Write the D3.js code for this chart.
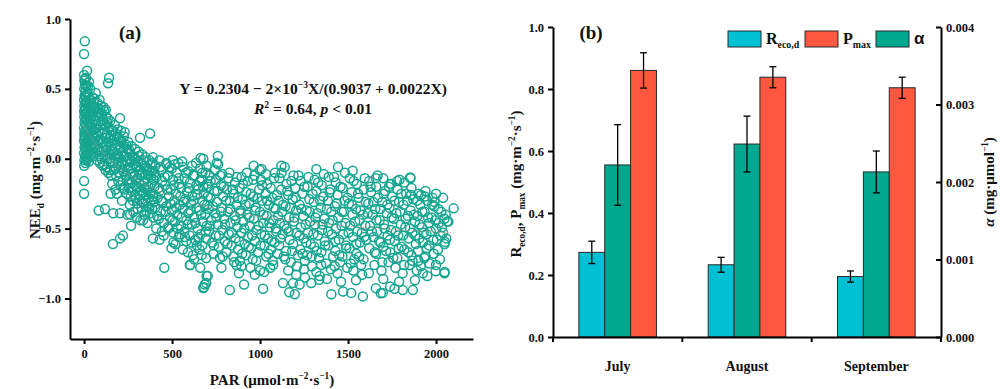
<!DOCTYPE html>
<html>
<head>
<meta charset="utf-8">
<script src="https://cdn.jsdelivr.net/npm/d3@7/dist/d3.min.js"></script>
<style>
  body { margin: 0; background: #fff; }
  svg text { font-family: "Liberation Serif", "Times New Roman", serif; font-weight: bold; fill: #111; }
</style>
</head>
<body>
<figure id="chart" style="margin:0"></figure>
<script>
// ---- panel (a) data: [PAR, NEE_d] ----
const colPoints = [
  [4,0.84],[0,0.75],[17,0.63],[23,0.52],[0,-0.16],[0,-0.25],
  [0,0.60],[2,0.56],[5,0.53],[1,0.50],[8,0.48],[3,0.45],[12,0.44],[0,0.42],[6,0.40],[15,0.41],[2,0.38],[10,0.36],
  [20,0.38],[0,0.34],[5,0.32],[14,0.33],[25,0.35],[1,0.30],[8,0.28],[18,0.29],[30,0.31],[3,0.26],[12,0.24],[22,0.26],
  [0,0.22],[6,0.20],[16,0.21],[28,0.22],[2,0.17],[10,0.16],[20,0.17],[35,0.19],[0,0.13],[5,0.11],[14,0.12],[25,0.13],
  [3,0.08],[9,0.06],[18,0.08],[32,0.09],[0,0.04],[6,0.02],[13,0.03],[22,0.04],[2,-0.01],[8,-0.03],[16,-0.01],[1,-0.05],
  [11,0.00],[4,0.15],[7,0.35],[9,0.45],[13,0.52],[4,0.57],[19,0.47],[26,0.44],[33,0.40],[38,0.36],[42,0.30],[45,0.25],
  [40,0.20],[36,0.14],[44,0.10],[30,0.05],[40,0.03],[27,-0.02],[48,0.07],[50,0.15],[52,0.34],[55,0.40],[47,0.44],
  [35,0.50],[28,0.55],[11,0.58],[58,0.28],[60,0.22],
  [3,0.19],[7,0.09],[12,0.29],[17,0.01],[21,0.12],[24,0.31],[29,0.16],[34,0.25],[39,0.08],[43,0.38],[49,0.21],[53,0.02],
  [57,0.11],[68,0.18],[76,0.06],[84,0.33],[91,0.14],[99,0.27],[107,0.12],[117,0.25],[127,0.09],[135,0.29],[144,0.00],[153,0.17]
];
const lowParPoints = [
  [142,0.58],[136,0.54],[66,0.47],[83,-0.37],[119,-0.36],[151,-0.25],
  [62,0.37],[70,0.33],[78,0.36],[85,0.30],[92,0.35],[100,0.32],[108,0.28],[115,0.34],[125,0.30],[132,0.26],[140,0.22],
  [148,0.27],[155,0.20],[65,0.27],[72,0.22],[80,0.25],[88,0.19],[96,0.24],[104,0.18],[112,0.21],[120,0.15],[128,0.18],
  [136,0.12],[145,0.15],[152,0.09],[158,0.13],[63,0.15],[70,0.10],[78,0.13],[86,0.07],[94,0.11],[102,0.05],[110,0.08],
  [118,0.02],[126,0.06],[134,0.00],[142,0.04],[150,-0.02],[157,0.03],[66,0.04],[74,-0.01],[82,0.02],[90,-0.03],[98,0.00],
  [106,-0.05],[114,-0.04],[122,-0.08],[130,-0.06],[138,-0.10],[146,-0.08],[154,-0.12],[75,0.40],[95,0.38],[110,0.37],
  [123,0.35],[60,0.43],[88,0.42],
  [164,-0.61],[204,-0.57],[221,-0.55],[267,-0.48],[166,-0.39],[204,-0.39],[246,-0.40],[204,0.29],[231,0.19],[375,0.18],[318,0.15],
  [165,0.20],[172,0.14],[180,0.18],[188,0.10],[196,0.15],[205,0.08],[212,0.12],[220,0.05],[228,0.09],[236,0.02],[244,0.07],
  [252,0.00],[260,0.04],[268,-0.02],[276,0.02],[284,-0.04],[292,0.00],[300,-0.06],[308,-0.02],[316,-0.08],[324,-0.03],
  [332,-0.10],[340,-0.05],[348,-0.11],[356,-0.06],[364,-0.12],[372,-0.08],[380,-0.13],[388,-0.09],[396,-0.15],
  [168,0.05],[176,0.00],[184,0.04],[192,-0.03],[200,0.01],[208,-0.06],[216,-0.02],[224,-0.09],[232,-0.05],[240,-0.12],
  [248,-0.08],[256,-0.15],[264,-0.11],[272,-0.17],[280,-0.13],[288,-0.19],[296,-0.15],[304,-0.21],[312,-0.17],[320,-0.23],
  [328,-0.19],[336,-0.24],[344,-0.21],[352,-0.26],[360,-0.22],[368,-0.28],[376,-0.24],[384,-0.29],[392,-0.25],[398,-0.31],
  [170,-0.08],[182,-0.12],[194,-0.16],[206,-0.19],[218,-0.16],[230,-0.22],[242,-0.25],[254,-0.21],[266,-0.27],[278,-0.30],
  [290,-0.26],[302,-0.32],[314,-0.29],[326,-0.35],[338,-0.32],[350,-0.37],[362,-0.34],[374,-0.39],[386,-0.36],[395,-0.42],
  [174,0.24],[190,0.21],[210,0.20],[226,0.16],[250,0.12],[270,0.09],[290,0.07],[310,0.05],[330,0.03],[350,0.01],[370,-0.01],
  [390,-0.03],[160,-0.18],[178,-0.22],[260,-0.33],[280,-0.38],[300,-0.42],[320,-0.44],[340,-0.40],[360,-0.46],
  [157,0.07],[163,-0.03],[171,0.11],[179,-0.07],[186,0.16],[193,0.02],[199,-0.10],[207,0.13],[213,-0.04],[219,-0.21],
  [226,0.02],[233,-0.12],[239,0.10],[245,-0.02],[251,-0.18],[258,0.06],[263,-0.07],[271,-0.23],[277,0.01],[283,-0.10],
  [291,-0.28],[297,-0.05],[303,-0.14],[311,0.02],[318,-0.26],[323,-0.12],[331,-0.31],[337,-0.01],[343,-0.16],[351,-0.30],
  [357,-0.09],[365,-0.20],[371,-0.35],[378,-0.04],[383,-0.18],[393,-0.27],[399,-0.10],[187,-0.25],[215,-0.30],[262,-0.40],
  [305,-0.36],[335,-0.44]
];
const midParPoints = [
  [405,-0.05],[438,-0.08],[468,-0.04],[498,-0.07],[528,-0.10],[562,-0.06],[592,-0.09],[628,-0.12],[660,-0.07],[690,-0.10],
  [412,-0.13],[445,-0.16],[475,-0.12],[505,-0.15],[540,-0.18],[572,-0.14],[602,-0.17],[638,-0.19],[668,-0.15],[698,-0.18],
  [400,-0.20],[430,-0.23],[460,-0.19],[492,-0.22],[522,-0.25],[552,-0.21],[585,-0.24],[615,-0.27],[648,-0.22],[680,-0.25],
  [418,-0.28],[448,-0.31],[482,-0.27],[512,-0.30],[545,-0.33],[575,-0.29],[608,-0.32],[640,-0.35],[672,-0.30],[700,-0.33],
  [404,-0.35],[436,-0.38],[466,-0.34],[498,-0.37],[530,-0.40],[560,-0.36],[592,-0.39],[625,-0.42],[655,-0.37],[688,-0.40],
  [425,-0.43],[455,-0.46],[488,-0.42],[518,-0.45],[550,-0.48],[582,-0.44],[612,-0.47],[645,-0.50],[675,-0.45],[698,-0.48],
  [410,-0.50],[442,-0.52],[475,-0.49],[508,-0.53],[538,-0.56],[570,-0.52],[600,-0.55],[632,-0.58],[662,-0.54],[692,-0.57],
  [391,-0.57],[429,-0.58],[497,-0.64],[543,-0.54],[580,-0.59],[603,-0.76],[618,-0.69],[656,-0.65],[694,-0.71],[703,-0.84],
  [682,-0.92],[694,-0.89],[456,-0.78],[561,-0.65],[520,-0.61],[640,-0.62],
  [391,0.01],[429,-0.01],[467,-0.03],[505,-0.01],[535,-0.03],[614,-0.05],[662,0.005],[760,0.02],[754,-0.03],
  [403,-0.12],[415,-0.41],[422,-0.21],[434,-0.06],[441,-0.30],[452,-0.55],[458,-0.13],[463,-0.38],[472,-0.22],[479,-0.50],
  [486,-0.06],[491,-0.32],[502,-0.44],[509,-0.19],[516,-0.04],[524,-0.35],[533,-0.50],[537,-0.14],[546,-0.27],[555,-0.42],
  [558,-0.02],[566,-0.31],[573,-0.56],[579,-0.10],[588,-0.47],[594,-0.21],[605,-0.37],[611,-0.60],[619,-0.12],[622,-0.30],
  [633,-0.46],[636,-0.03],[643,-0.26],[651,-0.57],[658,-0.16],[665,-0.40],[671,-0.62],[677,-0.20],[684,-0.33],[691,-0.52],
  [696,-0.05],[508,-0.60],[590,-0.67],[625,-0.72],[660,-0.78],[672,-0.10],
  [712,-0.12],[748,-0.15],[785,-0.11],[820,-0.14],[858,-0.17],[895,-0.13],[930,-0.16],[968,-0.12],[1005,-0.15],[1040,-0.18],[1080,-0.14],
  [705,-0.20],[740,-0.23],[778,-0.19],[812,-0.22],[850,-0.25],[885,-0.21],[922,-0.24],[960,-0.27],[995,-0.22],[1032,-0.25],[1070,-0.28],
  [718,-0.28],[755,-0.31],[790,-0.27],[828,-0.30],[865,-0.33],[900,-0.29],[938,-0.32],[975,-0.35],[1012,-0.30],[1050,-0.33],[1088,-0.36],
  [708,-0.36],[745,-0.39],[782,-0.35],[818,-0.38],[855,-0.41],[890,-0.37],[928,-0.40],[965,-0.43],[1000,-0.38],[1038,-0.41],[1075,-0.44],
  [722,-0.44],[760,-0.47],[795,-0.43],[832,-0.46],[870,-0.49],[905,-0.45],[942,-0.48],[980,-0.51],[1018,-0.46],[1055,-0.49],[1092,-0.52],
  [710,-0.52],[748,-0.55],[785,-0.51],[822,-0.54],[860,-0.57],[895,-0.53],[932,-0.56],[970,-0.59],[1006,-0.54],[1045,-0.57],[1082,-0.60],
  [728,-0.60],[765,-0.63],[800,-0.59],[838,-0.62],[875,-0.65],[912,-0.61],[950,-0.64],[988,-0.67],[1025,-0.62],[1062,-0.65],[1098,-0.68],
  [735,-0.68],[772,-0.71],[810,-0.67],[848,-0.70],[885,-0.73],[920,-0.69],[958,-0.72],[1035,-0.70],[1072,-0.73],
  [866,-0.76],[894,-0.77],[970,-0.83],[1023,-0.81],[1074,-0.76],[668,-0.69],[601,-0.76],[828,-0.94],[909,-0.90],[1017,-0.93],
  [696,-0.84],[686,-0.90],[677,-0.925],[964,-0.05],[1008,-0.074],[1121,-0.05],[762,-0.04],[677,0.0],
  [703,-0.27],[714,-0.48],[720,-0.16],[731,-0.34],[737,-0.62],[744,-0.08],[752,-0.42],[758,-0.23],[767,-0.55],[773,-0.12],
  [779,-0.38],[788,-0.70],[793,-0.20],[801,-0.47],[807,-0.30],[815,-0.61],[826,-0.10],[831,-0.36],[840,-0.53],[845,-0.22],
  [853,-0.74],[861,-0.44],[868,-0.13],[873,-0.28],[881,-0.59],[888,-0.39],[898,-0.68],[903,-0.18],[910,-0.50],[918,-0.33],
  [925,-0.10],[935,-0.63],[940,-0.42],[947,-0.25],[955,-0.55],[961,-0.15],[972,-0.37],[978,-0.73],[985,-0.28],[991,-0.48],
  [998,-0.08],[1003,-0.62],[1011,-0.19],[1020,-0.40],[1027,-0.55],[1033,-0.11],[1041,-0.30],[1048,-0.68],[1053,-0.46],
  [1060,-0.21],[1067,-0.59],[1077,-0.35],[1085,-0.10],[1090,-0.50],[1096,-0.26],[945,-0.78],[1000,-0.80],[880,-0.82],
  [780,-0.78],[1058,-0.78]
];
const highParPoints = [
  [1110,-0.14],[1150,-0.18],[1190,-0.12],[1230,-0.16],[1270,-0.20],[1310,-0.15],[1350,-0.19],[1390,-0.13],[1430,-0.17],[1470,-0.21],[1510,-0.14],[1550,-0.18],[1590,-0.22],
  [1120,-0.22],[1160,-0.26],[1200,-0.21],[1240,-0.25],[1280,-0.29],[1320,-0.23],[1360,-0.27],[1400,-0.22],[1440,-0.26],[1480,-0.30],[1520,-0.24],[1560,-0.28],[1600,-0.31],
  [1105,-0.30],[1145,-0.34],[1185,-0.29],[1225,-0.33],[1265,-0.37],[1305,-0.31],[1345,-0.35],[1385,-0.30],[1425,-0.34],[1465,-0.38],[1505,-0.32],[1545,-0.36],[1585,-0.40],
  [1125,-0.38],[1165,-0.42],[1205,-0.37],[1245,-0.41],[1285,-0.45],[1325,-0.39],[1365,-0.43],[1405,-0.38],[1445,-0.42],[1485,-0.46],[1525,-0.40],[1565,-0.44],[1598,-0.48],
  [1112,-0.46],[1152,-0.50],[1192,-0.45],[1232,-0.49],[1272,-0.53],[1312,-0.47],[1352,-0.51],[1392,-0.46],[1432,-0.50],[1472,-0.54],[1512,-0.48],[1552,-0.52],[1592,-0.56],
  [1128,-0.54],[1168,-0.58],[1208,-0.53],[1248,-0.57],[1288,-0.61],[1328,-0.55],[1368,-0.59],[1408,-0.54],[1448,-0.58],[1488,-0.62],[1528,-0.56],[1568,-0.60],
  [1108,-0.62],[1148,-0.66],[1188,-0.61],[1228,-0.65],[1268,-0.69],[1308,-0.63],[1348,-0.67],[1388,-0.62],[1428,-0.66],[1468,-0.70],[1508,-0.64],[1548,-0.68],[1588,-0.72],
  [1135,-0.70],[1175,-0.74],[1215,-0.69],[1255,-0.73],[1295,-0.77],[1335,-0.71],[1375,-0.75],[1415,-0.70],[1455,-0.74],[1495,-0.78],[1535,-0.72],[1575,-0.76],
  [1160,-0.80],[1250,-0.79],[1320,-0.81],[1440,-0.82],[1530,-0.80],[1580,-0.83],
  [1140,-0.06],[1320,-0.075],[1443,-0.06],[1526,-0.086],[1130,-0.89],[1197,-0.97],[1187,-0.89],[1225,-0.90],[1291,-0.89],
  [1405,-0.97],[1472,-0.95],[1518,-0.96],[1584,-0.985],[1339,-0.84],[1424,-0.77],[1166,-0.955],[1336,-0.866],
  [1103,-0.41],[1115,-0.57],[1122,-0.10],[1131,-0.33],[1138,-0.48],[1143,-0.72],[1155,-0.23],[1162,-0.52],[1170,-0.35],
  [1178,-0.16],[1183,-0.66],[1195,-0.42],[1202,-0.28],[1210,-0.77],[1218,-0.12],[1223,-0.55],[1235,-0.36],[1242,-0.68],
  [1252,-0.20],[1259,-0.47],[1263,-0.60],[1275,-0.13],[1282,-0.38],[1293,-0.70],[1298,-0.25],[1303,-0.54],[1315,-0.42],
  [1322,-0.66],[1330,-0.17],[1342,-0.30],[1347,-0.76],[1355,-0.47],[1362,-0.11],[1370,-0.62],[1380,-0.36],[1387,-0.52],
  [1395,-0.24],[1402,-0.79],[1412,-0.44],[1420,-0.13],[1427,-0.59],[1436,-0.32],[1450,-0.69],[1457,-0.20],[1463,-0.48],
  [1476,-0.38],[1483,-0.10],[1490,-0.64],[1497,-0.28],[1503,-0.53],[1515,-0.75],[1522,-0.33],[1532,-0.16],[1540,-0.45],
  [1547,-0.61],[1557,-0.25],[1563,-0.70],[1571,-0.37],[1578,-0.53],[1595,-0.14],[1255,-0.85],[1380,-0.86],[1460,-0.88],
  [1545,-0.87],[1205,-0.83]
];
const topParPoints = [
  [1620,-0.16],[1660,-0.20],[1700,-0.14],[1740,-0.18],[1780,-0.22],[1820,-0.17],[1860,-0.21],[1900,-0.25],[1940,-0.23],[1980,-0.28],
  [1630,-0.24],[1670,-0.28],[1710,-0.23],[1750,-0.27],[1790,-0.31],[1830,-0.25],[1870,-0.29],[1910,-0.33],[1950,-0.30],[1990,-0.34],[2030,-0.38],
  [1615,-0.32],[1655,-0.36],[1695,-0.31],[1735,-0.35],[1775,-0.39],[1815,-0.33],[1855,-0.37],[1895,-0.41],[1935,-0.38],[1975,-0.42],[2015,-0.46],[2055,-0.40],
  [1640,-0.40],[1680,-0.44],[1720,-0.39],[1760,-0.43],[1800,-0.47],[1840,-0.41],[1880,-0.45],[1920,-0.49],[1960,-0.46],[2000,-0.50],[2040,-0.53],
  [1625,-0.48],[1665,-0.52],[1705,-0.47],[1745,-0.51],[1785,-0.55],[1825,-0.49],[1865,-0.53],[1905,-0.57],[1945,-0.54],[1985,-0.58],[2025,-0.55],
  [1645,-0.56],[1685,-0.60],[1725,-0.55],[1765,-0.59],[1805,-0.63],[1845,-0.57],[1885,-0.61],[1960,-0.62],[2010,-0.65],
  [1620,-0.64],[1660,-0.68],[1700,-0.63],[1740,-0.67],[1780,-0.71],[1820,-0.65],[1860,-0.69],[1900,-0.73],[1940,-0.70],
  [1650,-0.76],[1690,-0.80],[1730,-0.74],[1770,-0.78],[1810,-0.82],[1850,-0.76],[1890,-0.80],
  [1855,-0.14],[1792,-0.15],[1745,-0.18],[2000,-0.25],[2100,-0.355],[1991,-0.31],[1915,-0.26],[2048,-0.43],[2063,-0.45],
  [2048,-0.61],[2048,-0.82],[2000,-0.76],[1934,-0.71],[1925,-0.82],[1868,-0.94],[1811,-0.94],[1764,-0.93],[1925,-0.60],
  [1658,-0.926],[1686,-0.962],[1697,-0.96],[1739,-0.914],[1853,-0.134],[1658,-0.139],[1998,-0.806],[2049,-0.81],[2051,-0.595],
  [1603,-0.58],[1612,-0.39],[1618,-0.82],[1628,-0.20],[1635,-0.52],[1643,-0.31],[1652,-0.67],[1662,-0.44],[1668,-0.12],
  [1677,-0.59],[1683,-0.36],[1693,-0.74],[1702,-0.25],[1708,-0.50],[1716,-0.66],[1723,-0.33],[1732,-0.20],[1738,-0.58],
  [1748,-0.42],[1757,-0.71],[1763,-0.30],[1772,-0.52],[1779,-0.16],[1787,-0.64],[1796,-0.38],[1803,-0.25],[1812,-0.55],
  [1818,-0.76],[1827,-0.43],[1836,-0.30],[1843,-0.67],[1852,-0.50],[1858,-0.26],[1866,-0.73],[1874,-0.40],[1882,-0.55],
  [1893,-0.30],[1898,-0.66],[1906,-0.47],[1913,-0.77],[1922,-0.38],[1930,-0.53],[1938,-0.27],[1947,-0.64],[1955,-0.42],
  [1963,-0.75],[1970,-0.52],[1978,-0.33],[1987,-0.68],[1995,-0.44],[2005,-0.58],[2013,-0.36],[2022,-0.72],[2033,-0.49],
  [2040,-0.28],[2058,-0.57],[2070,-0.45],[1700,-0.86],[1790,-0.88],[1880,-0.87],[1950,-0.84]
];

// fitted light response curve (dotted red line)
const fitPar = [0, 50, 100, 150, 200, 300, 400, 500, 600, 750, 900, 1000, 1250, 1500, 1750, 2000, 2100];
const fitNee = [0.230, 0.132, 0.052, -0.013, -0.067, -0.153, -0.218, -0.269, -0.309, -0.357, -0.394, -0.414, -0.454, -0.483, -0.506, -0.524, -0.530];

const parTicks = [0, 500, 1000, 1500, 2000];
const neeTicks = [-1.0, -0.5, 0.0, 0.5, 1.0];

// ---- panel (b) data ----
const months = ["July", "August", "September"];
const recoMean = [0.273, 0.233, 0.195];
const recoErr = [0.036, 0.024, 0.018];
const pmaxMean = [0.860, 0.838, 0.804];
const pmaxErr = [0.057, 0.034, 0.034];
const alphaMean = [0.00222, 0.00249, 0.00213];
const alphaErr = [0.00052, 0.00036, 0.00027];
const leftTicks = [0, 0.2, 0.4, 0.6, 0.8, 1.0];
const rightTicks = [0, 0.001, 0.002, 0.003, 0.004];

const teal = "#16a590";
const colors = { reco: "#00c1d3", alpha: "#00a88f", pmax: "#ff5740" };

const svg = d3.select("figure#chart")
  .append("svg")
  .attr("width", 1006)
  .attr("height", 389);

// text with sub/superscript pieces
function richText(sel, parts, size) {
  let shift = 0;
  parts.forEach(p => {
    const target = p.sup ? -0.38 * size : p.sub ? 0.28 * size : 0;
    const ts = sel.append("tspan").text(p.t).attr("dy", target - shift);
    if (p.sup || p.sub) ts.style("font-size", (size * 0.62) + "px");
    if (p.it) ts.style("font-style", "italic");
    shift = target;
  });
}

function styleAxis(g, size) {
  g.select(".domain").attr("stroke", "#000").attr("stroke-width", 2);
  g.selectAll(".tick line").attr("stroke", "#000").attr("stroke-width", 2);
  g.selectAll(".tick text").style("font-size", size + "px").attr("fill", "#111");
}

function drawScatter() {
  const x = d3.scaleLinear().domain([-80, 2210]).range([70, 473]);
  const y = d3.scaleLinear().domain([-1.29, 1.0]).range([339, 19]);

  // points
  const all = colPoints.concat(lowParPoints, midParPoints, highParPoints, topParPoints);
  svg.append("g")
    .selectAll("circle")
    .data(all)
    .enter()
    .append("circle")
    .attr("cx", d => x(d[0]))
    .attr("cy", d => y(d[1]))
    .attr("r", 4.5)
    .attr("fill", "none")
    .attr("stroke", teal)
    .attr("stroke-width", 1.5);

  // fit line
  const line = d3.line().x(d => x(d[0])).y(d => y(d[1])).curve(d3.curveMonotoneX);
  svg.append("path")
    .datum(d3.zip(fitPar, fitNee))
    .attr("d", line)
    .attr("fill", "none")
    .attr("stroke", "#f08a8a")
    .attr("stroke-width", 1)
    .attr("stroke-dasharray", "1.5,1.5")
    .attr("opacity", 0.7);

  // Add X axis
  const gx = svg.append("g")
    .attr("transform", "translate(0,339)")
    .call(d3.axisBottom(x).tickValues(parTicks).tickSize(5).tickSizeOuter(0).tickPadding(5).tickFormat(d3.format("d")));
  styleAxis(gx, 12.5);

  // Add Y axis
  const gy = svg.append("g")
    .attr("transform", "translate(70,0)")
    .call(d3.axisLeft(y).tickValues(neeTicks).tickSize(5).tickSizeOuter(0).tickPadding(4).tickFormat(d3.format(".1f")));
  styleAxis(gy, 12.5);

  // labels
  svg.append("text").attr("x", 130).attr("y", 39).attr("text-anchor", "middle")
    .style("font-size", "19px").text("(a)");

  const eq = svg.append("text").attr("x", 313).attr("y", 94).attr("text-anchor", "middle").style("font-size", "15.5px");
  richText(eq, [{ t: "Y = 0.2304 − 2×10" }, { t: "−3", sup: true }, { t: "X/(0.9037 + 0.0022X)" }], 15.5);

  const r2 = svg.append("text").attr("x", 313).attr("y", 114).attr("text-anchor", "middle").style("font-size", "15.5px");
  richText(r2, [{ t: "R", it: true }, { t: "2", sup: true }, { t: " = 0.64, " }, { t: "p", it: true }, { t: " < 0.01" }], 15.5);

  const xt = svg.append("text").attr("x", 272).attr("y", 385).attr("text-anchor", "middle").style("font-size", "15px");
  richText(xt, [{ t: "PAR (μmol·m" }, { t: "−2", sup: true }, { t: "·s" }, { t: "−1", sup: true }, { t: ")" }], 15);

  const yt = svg.append("text").attr("transform", "translate(40,180) rotate(-90)").attr("text-anchor", "middle").style("font-size", "15px");
  richText(yt, [{ t: "NEE" }, { t: "d", sub: true }, { t: " (mg·m" }, { t: "−2", sup: true }, { t: "·s" }, { t: "−1", sup: true }, { t: ")" }], 15);
}

function drawBars() {
  const x = d3.scaleBand().domain(months).range([553, 941]).paddingInner(0.4).paddingOuter(0.2);
  const xs = d3.scaleBand().domain(["reco", "alpha", "pmax"]).range([0, x.bandwidth()]);
  const yL = d3.scaleLinear().domain([0, 1]).range([337, 27]);
  const yR = d3.scaleLinear().domain([0, 0.004]).range([337, 27]);

  const rows = months.map((m, i) => [
    { m, key: "reco", v: recoMean[i], e: recoErr[i], y: yL },
    { m, key: "alpha", v: alphaMean[i], e: alphaErr[i], y: yR },
    { m, key: "pmax", v: pmaxMean[i], e: pmaxErr[i], y: yL }
  ]).flat();

  // bars
  svg.append("g")
    .selectAll("rect")
    .data(rows)
    .enter()
    .append("rect")
    .attr("x", d => x(d.m) + xs(d.key))
    .attr("y", d => d.y(d.v))
    .attr("width", xs.bandwidth())
    .attr("height", d => d.y(0) - d.y(d.v))
    .attr("fill", d => colors[d.key])
    .attr("stroke", "#2a2a2a")
    .attr("stroke-width", 1);

  // error bars
  const eb = svg.append("g").attr("stroke", "#000").attr("stroke-width", 1.3);
  rows.forEach(d => {
    const cx = x(d.m) + xs(d.key) + xs.bandwidth() / 2;
    const top = d.y(d.v + d.e), bot = d.y(d.v - d.e);
    eb.append("line").attr("x1", cx).attr("x2", cx).attr("y1", top).attr("y2", bot);
    eb.append("line").attr("x1", cx - 3.5).attr("x2", cx + 3.5).attr("y1", top).attr("y2", top);
    eb.append("line").attr("x1", cx - 3.5).attr("x2", cx + 3.5).attr("y1", bot).attr("y2", bot);
  });

  // X axis with ticks between months
  const gx = svg.append("g")
    .attr("transform", "translate(0,337)")
    .call(d3.axisBottom(x).tickSize(0).tickSizeOuter(0).tickPadding(24));
  styleAxis(gx, 14);
  const edges = [553].concat(months.map(m => x(m) + x.bandwidth() + x.step() * x.paddingInner() / 2));
  gx.selectAll(".edge")
    .data(edges)
    .enter()
    .append("line")
    .attr("x1", d => d).attr("x2", d => d)
    .attr("y1", 0).attr("y2", 5)
    .attr("stroke", "#000").attr("stroke-width", 2);

  // Left axis
  const gl = svg.append("g")
    .attr("transform", "translate(553,0)")
    .call(d3.axisLeft(yL).tickValues(leftTicks).tickSize(5).tickSizeOuter(0).tickPadding(4).tickFormat(d3.format(".1f")));
  styleAxis(gl, 12.5);

  // Right axis (ticks inward)
  const gr = svg.append("g")
    .attr("transform", "translate(941,0)")
    .call(d3.axisRight(yR).tickValues(rightTicks).tickSize(0).tickSizeOuter(0).tickPadding(5).tickFormat(d3.format(".3f")));
  styleAxis(gr, 12.5);
  gr.selectAll(".tick").append("line").attr("x1", -5).attr("x2", 0).attr("stroke", "#000").attr("stroke-width", 2);

  svg.append("text").attr("x", 591).attr("y", 39).attr("text-anchor", "middle")
    .style("font-size", "19px").text("(b)");

  // legend
  const legend = [
    { key: "reco", x: 728, parts: [{ t: "R" }, { t: "eco,d", sub: true }] },
    { key: "pmax", x: 805, parts: [{ t: "P" }, { t: "max", sub: true }] },
    { key: "alpha", x: 876, parts: [{ t: "α" }] }
  ];
  legend.forEach(l => {
    svg.append("rect").attr("x", l.x).attr("y", 31).attr("width", 33).attr("height", 16)
      .attr("fill", colors[l.key]).attr("stroke", "#2a2a2a").attr("stroke-width", 1);
    const t = svg.append("text").attr("x", l.x + 38).attr("y", 44).style("font-size", "16px");
    if (l.key === "alpha") t.style("font-family", "'Liberation Sans', Arial, sans-serif").style("font-size", "17px");
    richText(t, l.parts, 16);
  });

  // axis titles
  const yt = svg.append("text").attr("transform", "translate(521,184) rotate(-90)").attr("text-anchor", "middle").style("font-size", "15px");
  richText(yt, [{ t: "R" }, { t: "eco,d", sub: true }, { t: ", P" }, { t: "max", sub: true }, { t: " (mg·m" }, { t: "−2", sup: true }, { t: "·s" }, { t: "−1", sup: true }, { t: ")" }], 15);

  const rt = svg.append("text").attr("transform", "translate(994,182) rotate(-90)").attr("text-anchor", "middle").style("font-size", "15px");
  rt.append("tspan").text("α").style("font-style", "italic");
  richText(rt, [{ t: " (mg·μmol" }, { t: "−1", sup: true }, { t: ")" }], 15);
}

drawScatter();
drawBars();
</script>
</body>
</html>
